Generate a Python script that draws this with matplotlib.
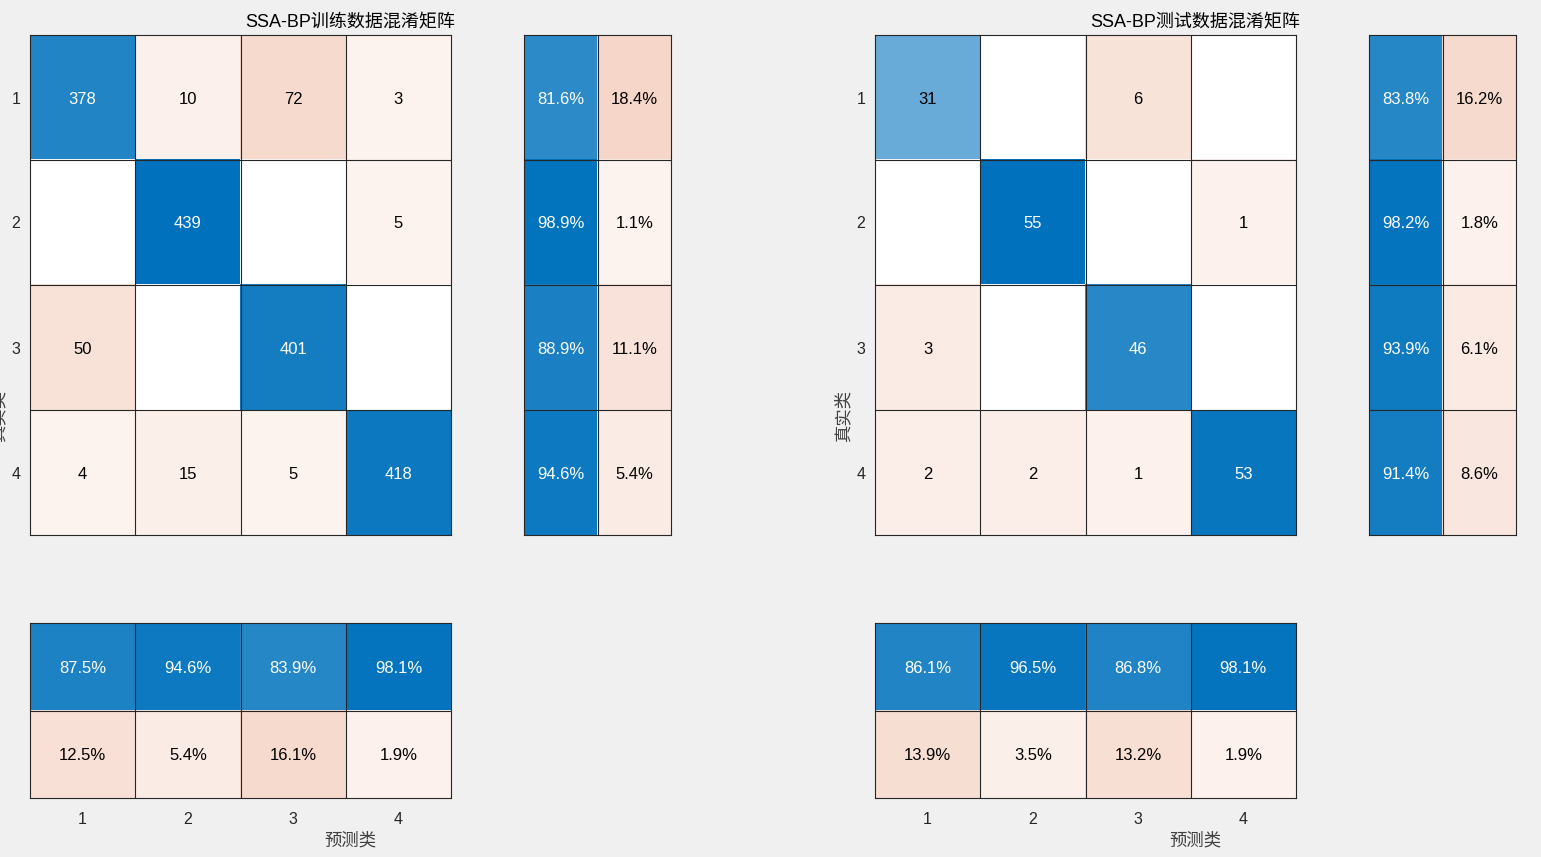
import numpy as np
import matplotlib
matplotlib.use('Agg')
import matplotlib.pyplot as plt

plt.rcParams['font.family'] = ['Liberation Sans', 'Noto Sans CJK SC', 'DejaVu Sans']

classes = ['1', '2', '3', '4']

# confusion matrices (rows = true class, cols = predicted class)
train_cm = np.array([[378, 10, 72, 3],
                     [0, 439, 0, 5],
                     [50, 0, 401, 0],
                     [4, 15, 5, 418]])
test_cm = np.array([[31, 0, 6, 0],
                    [0, 55, 0, 1],
                    [3, 0, 46, 0],
                    [2, 2, 1, 53]])

train_title = 'SSA-BP训练数据混淆矩阵'
test_title = 'SSA-BP测试数据混淆矩阵'
xlabel = '预测类'
ylabel = '真实类'

W, H = 1541, 857
BG = '#f0f0f0'
BLUE = np.array([0, 114, 189]) / 255
ORANGE = np.array([217, 83, 25]) / 255
EDGE = '#262626'

fig = plt.figure(figsize=(W / 100, H / 100), dpi=100, facecolor=BG)


def px_axes(x, y, w, h):
    return fig.add_axes([x / W, 1 - (y + h) / H, w / W, h / H])


def shade(base, a):
    # matlab-like ramp: small non-zero values still get a faint tint
    f = 0.06 + 0.94 * a
    return 1 - f * (1 - base)


def txt_color(rgb):
    lum = 0.299 * rgb[0] + 0.587 * rgb[1] + 0.114 * rgb[2]
    return 'white' if lum < 0.55 else 'black'


def draw_cells(ax, img, labels):
    nr, nc = img.shape[:2]
    ax.imshow(img, extent=(-0.5, nc - 0.5, nr - 0.5, -0.5), aspect='auto', interpolation='nearest')
    for k in range(1, nc):
        ax.axvline(k - 0.5, color=EDGE, lw=0.8)
    for k in range(1, nr):
        ax.axhline(k - 0.5, color=EDGE, lw=0.8)
    for i in range(nr):
        for j in range(nc):
            if labels[i][j]:
                ax.text(j, i, labels[i][j], ha='center', va='center_baseline', fontsize=12,
                        color=txt_color(img[i, j]))
    for s in ax.spines.values():
        s.set_color(EDGE)
        s.set_linewidth(0.8)
    ax.set_xticks([])
    ax.set_yticks([])


def confusion(cm, x0, title):
    n = cm.shape[0]
    vmax = cm.max()
    img = np.ones((n, n, 3))
    labels = [['' for _ in range(n)] for _ in range(n)]
    for i in range(n):
        for j in range(n):
            if cm[i, j] > 0:
                base = BLUE if i == j else ORANGE
                img[i, j] = shade(base, cm[i, j] / vmax)
                labels[i][j] = str(cm[i, j])
    ax = px_axes(x0, 35, 421, 500)
    draw_cells(ax, img, labels)
    ax.set_yticks(range(n))
    ax.set_yticklabels(classes, fontsize=11.5, color=EDGE)
    ax.tick_params(axis='y', length=0, pad=7)

    # row summary
    row_ok = np.diag(cm) / cm.sum(axis=1)
    rimg = np.ones((n, 2, 3))
    rlab = []
    for i in range(n):
        rimg[i, 0] = shade(BLUE, row_ok[i])
        rimg[i, 1] = shade(ORANGE, 1 - row_ok[i])
        rlab.append(['%.1f%%' % (100 * row_ok[i]), '%.1f%%' % (100 * (1 - row_ok[i]))])
    axr = px_axes(x0 + 494, 35, 147, 500)
    draw_cells(axr, rimg, rlab)

    # column summary
    col_ok = np.diag(cm) / cm.sum(axis=0)
    cimg = np.ones((2, n, 3))
    clab = [[], []]
    for j in range(n):
        cimg[0, j] = shade(BLUE, col_ok[j])
        cimg[1, j] = shade(ORANGE, 1 - col_ok[j])
        clab[0].append('%.1f%%' % (100 * col_ok[j]))
        clab[1].append('%.1f%%' % (100 * (1 - col_ok[j])))
    axc = px_axes(x0, 623, 421, 175)
    draw_cells(axc, cimg, clab)
    axc.set_xticks(range(n))
    axc.set_xticklabels(classes, fontsize=11.5, color=EDGE)
    axc.tick_params(axis='x', length=0, pad=10)

    cx = (x0 + x0 + 641) / 2
    fig.text(cx / W, 1 - 21 / H, title, ha='center', va='center_baseline', fontsize=13, color='black')
    fig.text(cx / W, 1 - 840 / H, xlabel, ha='center', va='center', fontsize=12.5, color='#404040')
    fig.text((x0 - 32) / W, 1 - 416 / H, ylabel, ha='center', va='center', rotation=90,
             fontsize=12.5, color='#404040')


confusion(train_cm, 30, train_title)
confusion(test_cm, 875, test_title)

fig.savefig('out.png', dpi=100, facecolor=BG)
